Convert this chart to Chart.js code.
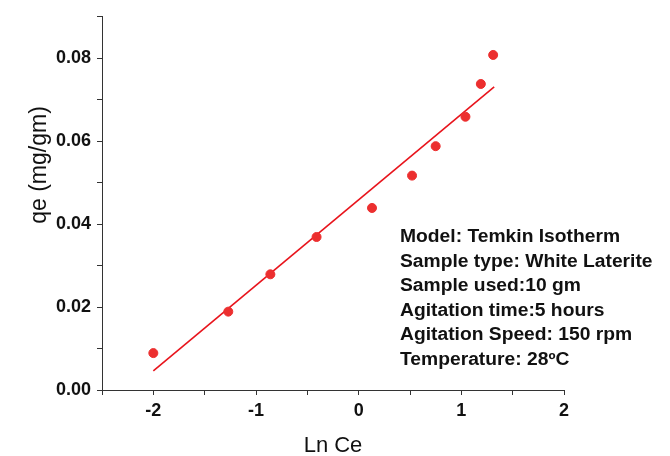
<!DOCTYPE html>
<html>
<head>
<meta charset="utf-8">
<script src="https://cdn.jsdelivr.net/npm/chart.js@4.4.0/dist/chart.umd.min.js"></script>
<style>
  html, body { margin: 0; padding: 0; background: #fff; }
  #wrap { width: 670px; height: 456px; }
</style>
</head>
<body>
<div id="wrap"><canvas id="chart" width="670" height="456"></canvas></div>
<script>
// measured points (Ln Ce vs qe)
const lnCe = [-2.0, -1.27, -0.86, -0.41, 0.13, 0.52, 0.75, 1.04, 1.19, 1.31];
const qe = [0.0089, 0.0189, 0.0279, 0.0369, 0.0439, 0.0517, 0.0588, 0.0659, 0.0738, 0.0808];

// linear fit line end points
const fitX = [-2.0, 1.32];
const fitY = [0.0046, 0.0731];

const notes = [
  'Model: Temkin Isotherm',
  'Sample type: White Laterite',
  'Sample used:10 gm',
  'Agitation time:5 hours',
  'Agitation Speed: 150 rpm',
  'Temperature: 28\u00BAC'
];

const xTitle = 'Ln Ce';
const yTitle = 'qe (mg/gm)';

const RED = '#ec2f2f';
const FONT = '"Liberation Sans", Arial, sans-serif';

// axis titles + info box, placed like the original figure
const labelsPlugin = {
  id: 'labels',
  afterDraw(chart) {
    const ctx = chart.ctx;
    ctx.save();
    ctx.fillStyle = '#111';
    ctx.textBaseline = 'middle';

    // the source figure is a bit stretched sideways
    ctx.save();
    ctx.translate(400, 0);
    ctx.scale(1.07, 1);
    ctx.font = 'bold 18px ' + FONT;
    ctx.textAlign = 'left';
    notes.forEach((t, i) => ctx.fillText(t, 0, 237 + i * 24.6));
    ctx.restore();

    ctx.font = '22px ' + FONT;
    ctx.textAlign = 'center';
    ctx.fillText(xTitle, 333, 446);

    ctx.font = '23px ' + FONT;
    ctx.translate(40, 165);
    ctx.rotate(-Math.PI / 2);
    ctx.fillText(yTitle, 0, 0);
    ctx.restore();
  }
};

const tickFont = { family: FONT, size: 18, weight: 'bold' };

new Chart(document.getElementById('chart'), {
  type: 'scatter',
  data: {
    datasets: [
      {
        data: lnCe.map((x, i) => ({ x, y: qe[i] })),
        backgroundColor: RED,
        borderColor: RED,
        pointRadius: 4.5,
        showLine: false
      },
      {
        data: fitX.map((x, i) => ({ x, y: fitY[i] })),
        borderColor: '#e8141c',
        borderWidth: 1.6,
        pointRadius: 0,
        showLine: true
      }
    ]
  },
  options: {
    responsive: false,
    animation: false,
    layout: { padding: { top: 15, right: 106, left: 0, bottom: 0 } },
    plugins: { legend: { display: false }, tooltip: { enabled: false } },
    scales: {
      x: {
        type: 'linear',
        min: -2.5,
        max: 2,
        afterFit(s) { s.height = 66; },
        border: { color: '#333', width: 1 },
        grid: { drawOnChartArea: false, tickLength: 5, color: '#333' },
        ticks: {
          stepSize: 0.5,
          padding: 5,
          color: '#111',
          font: tickFont,
          callback: v => (Number.isInteger(v) && v > -2.5 ? String(v) : '')
        }
      },
      y: {
        type: 'linear',
        min: 0,
        max: 0.09,
        afterFit(s) { s.width = 102; },
        border: { color: '#333', width: 1 },
        grid: { drawOnChartArea: false, tickLength: 5, color: '#333' },
        ticks: {
          stepSize: 0.01,
          padding: 6,
          color: '#111',
          font: tickFont,
          callback: v => {
            const k = Math.round(v * 100);
            return k % 2 === 0 ? (k / 100).toFixed(2) : '';
          }
        }
      }
    }
  },
  plugins: [labelsPlugin]
});
</script>
</body>
</html>
